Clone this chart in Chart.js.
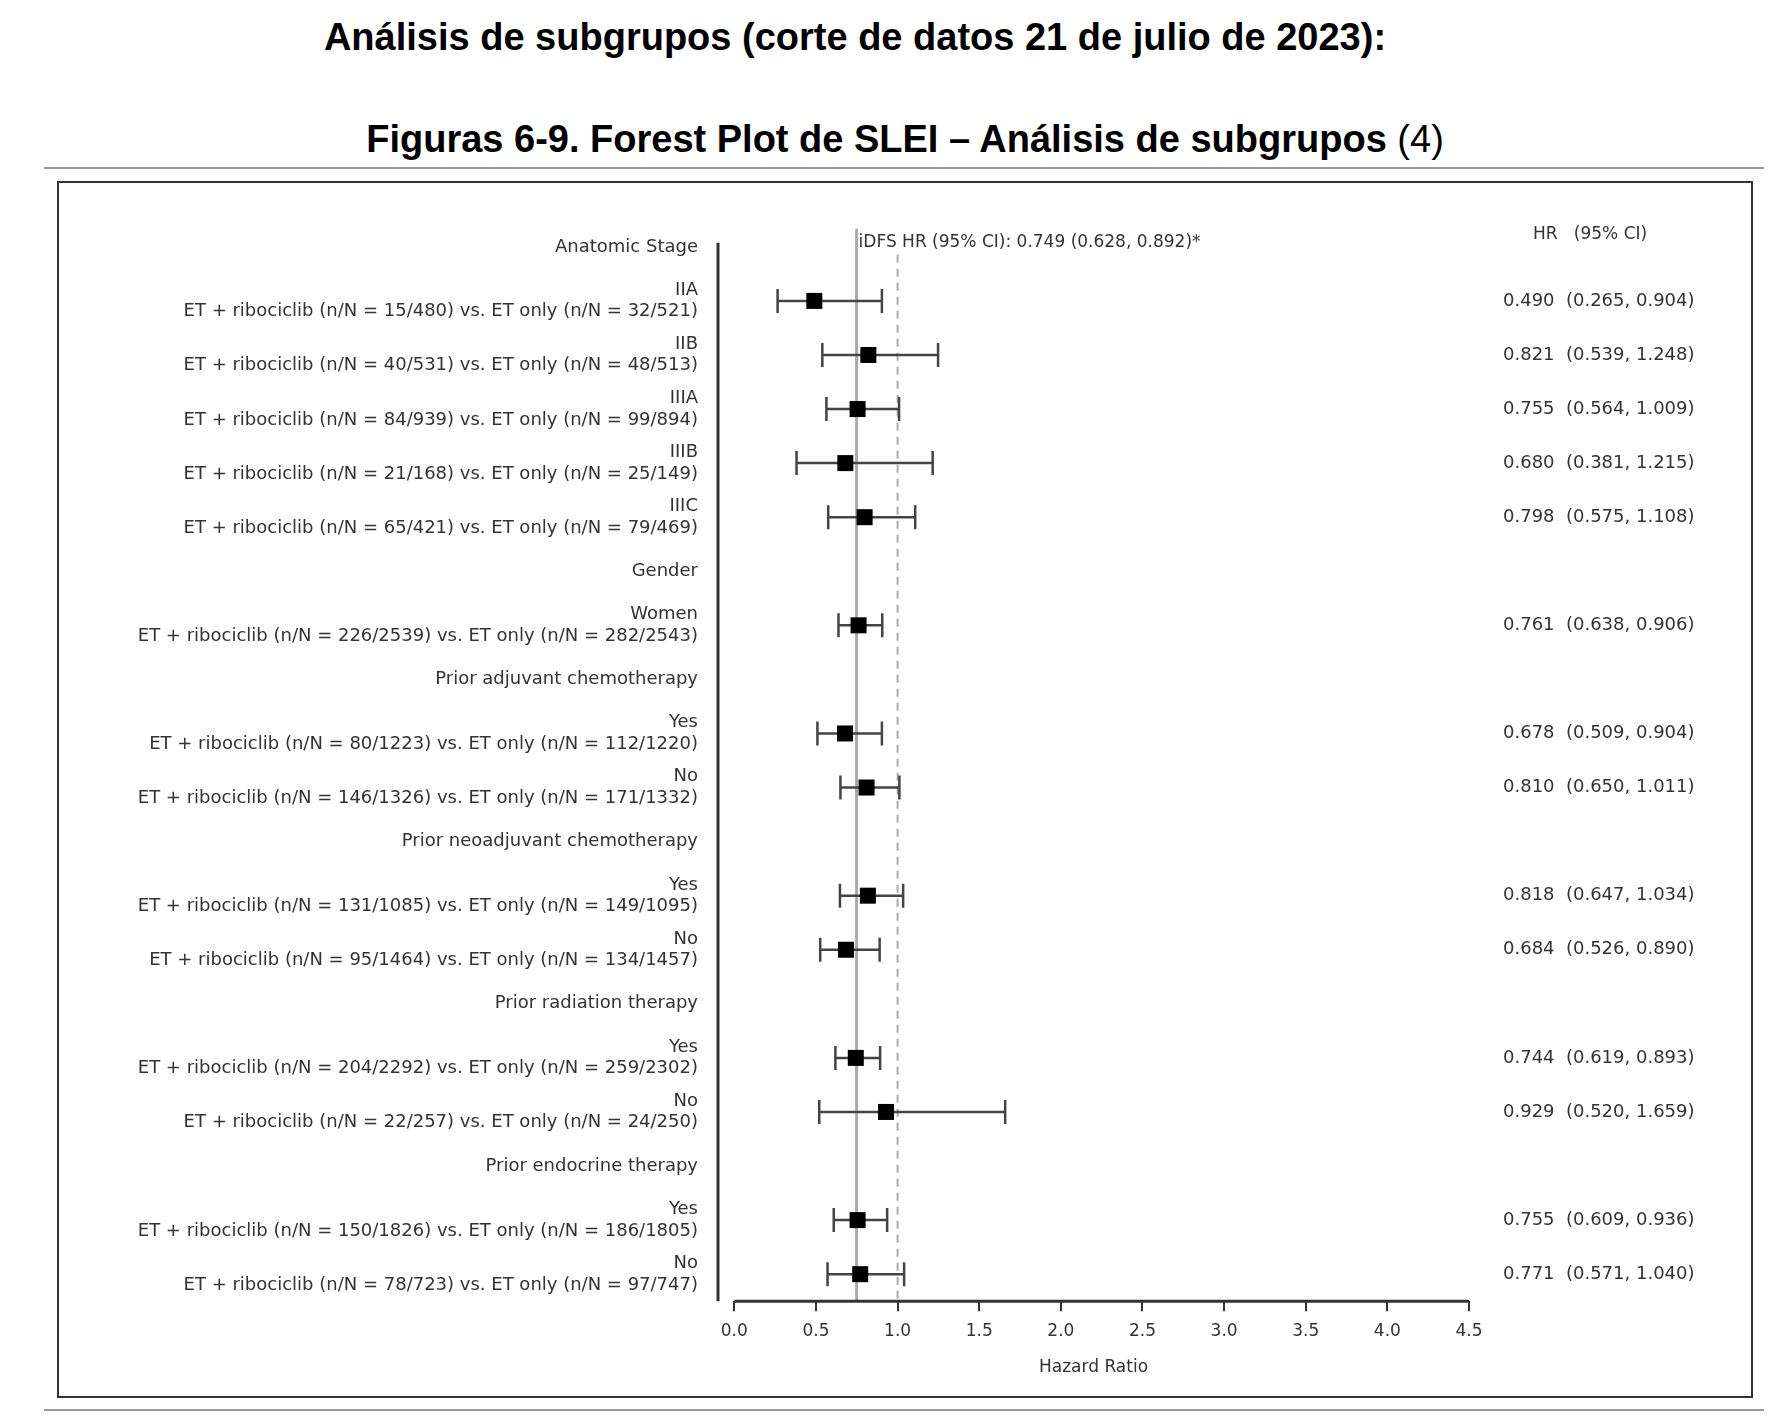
<!DOCTYPE html>
<html><head><meta charset="utf-8">
<script src="https://cdn.jsdelivr.net/npm/chart.js@4/dist/chart.umd.min.js"></script>
<style>
body{margin:0;background:#fff;font-family:"Liberation Sans",Arial,sans-serif;}
h1{position:absolute;left:0;width:1710px;text-align:center;margin:0;font-size:38px;font-weight:bold;color:#000;}
#frame{position:absolute;left:44px;top:167px;width:1720px;height:1240px;border-top:2px solid #999;border-bottom:2px solid #999;}
#box{position:absolute;left:57px;top:181px;width:1692px;height:1213px;border:2px solid #333;}
canvas{position:absolute;left:0;top:0;}
</style></head><body>
<h1 style="top:16px">Análisis de subgrupos (corte de datos 21 de julio de 2023):</h1>
<h1 style="top:118px;left:50px">Figuras 6-9. Forest Plot de SLEI – Análisis de subgrupos <span style="font-weight:normal">(4)</span></h1>
<div id="frame"></div>
<div id="box"><canvas id="c" width="1692" height="1213"></canvas></div>
<script>
const groups = ['Anatomic Stage','IIA','IIB','IIIA','IIIB','IIIC','Gender','Women','Prior adjuvant chemotherapy','Yes','No','Prior neoadjuvant chemotherapy','Yes','No','Prior radiation therapy','Yes','No','Prior endocrine therapy','Yes','No'];
const details = [null,
 'ET + ribociclib (n/N = 15/480) vs. ET only (n/N = 32/521)',
 'ET + ribociclib (n/N = 40/531) vs. ET only (n/N = 48/513)',
 'ET + ribociclib (n/N = 84/939) vs. ET only (n/N = 99/894)',
 'ET + ribociclib (n/N = 21/168) vs. ET only (n/N = 25/149)',
 'ET + ribociclib (n/N = 65/421) vs. ET only (n/N = 79/469)',
 null,
 'ET + ribociclib (n/N = 226/2539) vs. ET only (n/N = 282/2543)',
 null,
 'ET + ribociclib (n/N = 80/1223) vs. ET only (n/N = 112/1220)',
 'ET + ribociclib (n/N = 146/1326) vs. ET only (n/N = 171/1332)',
 null,
 'ET + ribociclib (n/N = 131/1085) vs. ET only (n/N = 149/1095)',
 'ET + ribociclib (n/N = 95/1464) vs. ET only (n/N = 134/1457)',
 null,
 'ET + ribociclib (n/N = 204/2292) vs. ET only (n/N = 259/2302)',
 'ET + ribociclib (n/N = 22/257) vs. ET only (n/N = 24/250)',
 null,
 'ET + ribociclib (n/N = 150/1826) vs. ET only (n/N = 186/1805)',
 'ET + ribociclib (n/N = 78/723) vs. ET only (n/N = 97/747)'];
const hr   = [null,0.490,0.821,0.755,0.680,0.798,null,0.761,null,0.678,0.810,null,0.818,0.684,null,0.744,0.929,null,0.755,0.771];
const lo   = [null,0.265,0.539,0.564,0.381,0.575,null,0.638,null,0.509,0.650,null,0.647,0.526,null,0.619,0.520,null,0.609,0.571];
const hi   = [null,0.904,1.248,1.009,1.215,1.108,null,0.906,null,0.904,1.011,null,1.034,0.890,null,0.893,1.659,null,0.936,1.040];
const xTicks = [0,0.5,1,1.5,2,2.5,3,3.5,4,4.5];
const overallHR = 0.749, refHR = 1.0;
const overallText = 'iDFS HR (95% CI): 0.749 (0.628, 0.892)*';

const fmt = v => v.toFixed(3);
const rows = groups.map((g,i) => details[i] ? [g, details[i]] : g);
const rightLabels = hr.map((v,i) => v == null ? '' : fmt(v) + '  (' + fmt(lo[i]) + ', ' + fmt(hi[i]) + ')');
const FAMILY = '"DejaVu Sans", sans-serif';
const FONT = {family:FAMILY, size:18};
const GREY = '#444';

const forest = {
  id:'forest',
  beforeDatasetsDraw(chart){
    const {ctx, scales:{x,y}} = chart;
    const r0 = y.getPixelForValue(0), bot = y.bottom;
    ctx.save();
    // left axis line
    ctx.strokeStyle = '#333'; ctx.lineWidth = 3;
    ctx.beginPath(); ctx.moveTo(y.right, r0 - 4); ctx.lineTo(y.right, bot); ctx.stroke();
    // overall and reference lines
    ctx.strokeStyle = '#aaa'; ctx.lineWidth = 3;
    ctx.beginPath(); ctx.moveTo(x.getPixelForValue(overallHR), r0 - 18); ctx.lineTo(x.getPixelForValue(overallHR), bot); ctx.stroke();
    ctx.setLineDash([8,6]); ctx.lineWidth = 2;
    ctx.beginPath(); ctx.moveTo(x.getPixelForValue(refHR), r0 + 8); ctx.lineTo(x.getPixelForValue(refHR), bot); ctx.stroke();
    ctx.setLineDash([]);
    // CI whiskers
    ctx.strokeStyle = GREY; ctx.lineWidth = 2.5;
    hr.forEach((v,i) => {
      if (v == null) return;
      const py = y.getPixelForValue(i), a = x.getPixelForValue(lo[i]), b = x.getPixelForValue(hi[i]);
      ctx.beginPath();
      ctx.moveTo(a, py); ctx.lineTo(b, py);
      ctx.moveTo(a, py-12); ctx.lineTo(a, py+12);
      ctx.moveTo(b, py-12); ctx.lineTo(b, py+12);
      ctx.stroke();
    });
    // x axis line from 0 to 4.5
    ctx.strokeStyle = '#333'; ctx.lineWidth = 3;
    ctx.beginPath(); ctx.moveTo(x.getPixelForValue(0), x.top); ctx.lineTo(x.getPixelForValue(4.5), x.top); ctx.stroke();
    // texts
    ctx.fillStyle = '#333'; ctx.font = '17px ' + FAMILY;
    ctx.textBaseline = 'middle'; ctx.textAlign = 'left';
    ctx.fillText(overallText, x.getPixelForValue(overallHR) + 2, r0 - 4);
    ctx.fillText('HR   (95% CI)', 1474, 52);
    ctx.restore();
  },
  afterDatasetsDraw(chart){
    const {ctx, scales:{x,y}} = chart;
    ctx.save(); ctx.fillStyle = '#000';
    hr.forEach((v,i) => {
      if (v == null) return;
      const px = x.getPixelForValue(v), py = y.getPixelForValue(i);
      ctx.fillRect(px - 8, py - 8, 16, 16);
    });
    ctx.restore();
  }
};

new Chart(document.getElementById('c'), {
  type:'scatter',
  data:{ labels: rows, datasets:[{data:[], pointRadius:0}] },
  options:{
    responsive:false, animation:false,
    layout:{padding:{top:20, bottom:14, left:0, right:0}},
    plugins:{legend:{display:false}, tooltip:{enabled:false}},
    scales:{
      x:{
        type:'linear', min:-0.1, max:4.5,
        afterBuildTicks: s => { s.ticks = xTicks.map(v => ({value:v})); },
        border:{display:false},
        grid:{drawOnChartArea:false, drawTicks:true, tickLength:10, color:'#333', lineWidth:2},
        ticks:{font:{family:FAMILY, size:17}, color:'#333', padding:10, callback: v => Number(v).toFixed(1)},
        title:{display:true, text:'Hazard Ratio', font:{family:FAMILY, size:17}, color:'#333', padding:{top:6}}
      },
      y:{
        type:'category', offset:true, position:'left',
        labels: rows,
        afterFit: s => { s.width = 659; },
        border:{display:false},
        grid:{display:false},
        ticks:{font:FONT, color:'#333', padding:12, autoSkip:false, lineHeight:1.25}
      },
      y2:{
        type:'category', offset:true, position:'right',
        labels: rightLabels,
        afterFit: s => { s.width = 282; },
        border:{display:false}, grid:{display:false},
        ticks:{font:FONT, color:'#333', padding:26, autoSkip:false, crossAlign:'near'}
      }
    }
  },
  plugins:[forest]
});
</script>
</body></html>
